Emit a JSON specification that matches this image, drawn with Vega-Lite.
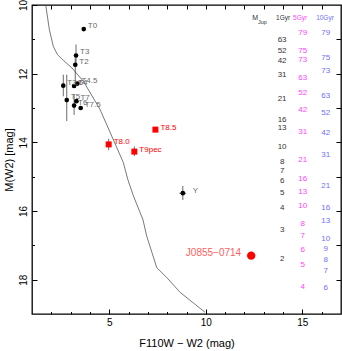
{
  "$schema": "https://vega.github.io/schema/vega-lite/v6.json",
  "width": 309,
  "height": 309,
  "autosize": "none",
  "padding": {"left": 32, "top": 5, "right": 1, "bottom": 37},
  "config": {
    "font": "Liberation Sans",
    "view": {"stroke": "black", "strokeWidth": 1.3},
    "axis": {"grid": false, "domain": false, "tickColor": "black", "tickWidth": 1, "labelColor": "black", "titleColor": "black", "labelFont": "Liberation Sans", "titleFont": "Liberation Sans", "labelFontSize": 10, "titleFontSize": 11, "titleFontWeight": "normal"}
  },
  "datasets": {
    "curve": [
      {"x": 1.71, "y": 10.0}, {"x": 1.90, "y": 10.72}, {"x": 2.10, "y": 11.20}, {"x": 2.31, "y": 11.44},
      {"x": 2.62, "y": 11.61}, {"x": 3.06, "y": 11.83}, {"x": 3.66, "y": 12.22}, {"x": 4.52, "y": 13.04},
      {"x": 5.13, "y": 13.82}, {"x": 5.73, "y": 14.59}, {"x": 5.96, "y": 15.08}, {"x": 6.25, "y": 15.56},
      {"x": 6.60, "y": 16.05}, {"x": 6.74, "y": 16.24}, {"x": 6.94, "y": 16.73}, {"x": 7.46, "y": 17.65},
      {"x": 7.98, "y": 17.94}, {"x": 8.67, "y": 18.37}, {"x": 9.96, "y": 18.95}
    ],
    "objs": [
      {"name": "T0", "group": "T", "x": 3.68, "y": 10.70},
      {"name": "T3", "group": "T", "x": 3.28, "y": 11.47, "ylo": 11.15, "yhi": 11.80},
      {"name": "T2", "group": "T", "x": 3.24, "y": 11.74, "ylo": 11.55, "yhi": 12.30},
      {"name": "T3.5", "group": "T", "x": 2.62, "y": 12.35, "ylo": 12.03, "yhi": 12.66},
      {"name": "T4", "group": "T", "x": 3.18, "y": 12.36},
      {"name": "T4.5", "group": "T", "x": 3.35, "y": 12.29},
      {"name": "T5", "group": "T", "x": 2.80, "y": 12.77, "ylo": 12.03, "yhi": 13.38},
      {"name": "T6", "group": "T", "x": 3.18, "y": 12.93, "ylo": 12.60, "yhi": 13.20},
      {"name": "T7", "group": "T", "x": 3.30, "y": 12.80},
      {"name": "T7.5", "group": "T", "x": 3.52, "y": 13.00},
      {"name": "T8.0", "group": "R", "x": 4.97, "y": 14.06, "ylo": 13.90, "yhi": 14.22},
      {"name": "T8.5", "group": "R", "x": 7.39, "y": 13.63, "ylo": 13.55, "yhi": 13.70},
      {"name": "T9pec", "group": "R", "x": 6.30, "y": 14.27, "ylo": 14.12, "yhi": 14.40},
      {"name": "Y", "group": "Y", "x": 8.81, "y": 15.48, "ylo": 15.27, "yhi": 15.68, "xlo": 8.63, "xhi": 8.98},
      {"name": "J0855−0714", "group": "J", "x": 12.35, "y": 17.30}
    ],
    "mass": [
      {"age": "1Gyr", "m": "63", "y": 11.03}, {"age": "1Gyr", "m": "52", "y": 11.35}, {"age": "1Gyr", "m": "42", "y": 11.64},
      {"age": "1Gyr", "m": "31", "y": 12.05}, {"age": "1Gyr", "m": "21", "y": 12.73}, {"age": "1Gyr", "m": "16", "y": 13.35},
      {"age": "1Gyr", "m": "13", "y": 13.58}, {"age": "1Gyr", "m": "10", "y": 14.14}, {"age": "1Gyr", "m": "8", "y": 14.56},
      {"age": "1Gyr", "m": "7", "y": 14.84}, {"age": "1Gyr", "m": "6", "y": 15.13}, {"age": "1Gyr", "m": "5", "y": 15.49},
      {"age": "1Gyr", "m": "4", "y": 15.92}, {"age": "1Gyr", "m": "3", "y": 16.54}, {"age": "1Gyr", "m": "2", "y": 17.40},
      {"age": "5Gyr", "m": "79", "y": 10.81}, {"age": "5Gyr", "m": "75", "y": 11.33}, {"age": "5Gyr", "m": "73", "y": 11.59},
      {"age": "5Gyr", "m": "63", "y": 12.14}, {"age": "5Gyr", "m": "52", "y": 12.56}, {"age": "5Gyr", "m": "42", "y": 13.07},
      {"age": "5Gyr", "m": "31", "y": 13.69}, {"age": "5Gyr", "m": "21", "y": 14.52}, {"age": "5Gyr", "m": "16", "y": 15.08},
      {"age": "5Gyr", "m": "13", "y": 15.45}, {"age": "5Gyr", "m": "10", "y": 15.85}, {"age": "5Gyr", "m": "8", "y": 16.37},
      {"age": "5Gyr", "m": "7", "y": 16.73}, {"age": "5Gyr", "m": "6", "y": 17.13}, {"age": "5Gyr", "m": "5", "y": 17.58},
      {"age": "5Gyr", "m": "4", "y": 18.21},
      {"age": "10Gyr", "m": "79", "y": 10.81}, {"age": "10Gyr", "m": "75", "y": 11.55}, {"age": "10Gyr", "m": "73", "y": 11.93},
      {"age": "10Gyr", "m": "63", "y": 12.64}, {"age": "10Gyr", "m": "52", "y": 13.14}, {"age": "10Gyr", "m": "42", "y": 13.72},
      {"age": "10Gyr", "m": "31", "y": 14.37}, {"age": "10Gyr", "m": "21", "y": 15.27}, {"age": "10Gyr", "m": "16", "y": 15.90},
      {"age": "10Gyr", "m": "13", "y": 16.29}, {"age": "10Gyr", "m": "10", "y": 16.82}, {"age": "10Gyr", "m": "9", "y": 17.11},
      {"age": "10Gyr", "m": "8", "y": 17.42}, {"age": "10Gyr", "m": "7", "y": 17.76}, {"age": "10Gyr", "m": "6", "y": 18.25}
    ],
    "one": [{"k": 1}]
  },
  "layer": [
    {
      "data": {"name": "curve"},
      "mark": {"type": "line", "color": "#555555", "strokeWidth": 0.8},
      "encoding": {
        "x": {"field": "x", "type": "quantitative", "scale": {"domain": [1, 17], "nice": false, "zero": false},
          "axis": {"orient": "bottom", "values": [5, 10, 15], "tickSize": -5, "labelPadding": 8, "title": "F110W − W2 (mag)", "titlePadding": 10}},
        "y": {"field": "y", "type": "quantitative", "scale": {"domain": [10, 19], "nice": false, "zero": false, "reverse": true},
          "axis": {"orient": "left", "values": [10, 12, 14, 16, 18], "tickSize": -5, "labelAngle": -90, "labelPadding": 9, "title": "M(W2) [mag]", "titlePadding": 4}}
      }
    },
    {
      "data": {"name": "curve"},
      "mark": {"type": "line", "opacity": 0},
      "encoding": {
        "x": {"field": "x", "type": "quantitative", "axis": {"orient": "bottom", "values": [2, 3, 4, 6, 7, 8, 9, 11, 12, 13, 14, 16], "tickSize": -2.5, "labels": false, "title": null}},
        "y": {"field": "y", "type": "quantitative", "axis": {"orient": "left", "values": [11, 13, 15, 17], "tickSize": -2.5, "labels": false, "title": null}}
      }
    },
    {
      "data": {"name": "curve"},
      "mark": {"type": "line", "opacity": 0},
      "encoding": {
        "x": {"field": "x", "type": "quantitative", "axis": {"orient": "top", "values": [2, 3, 4, 5, 6, 7, 8, 9, 10, 11, 12, 13, 14, 15, 16], "tickSize": -4, "labels": false, "title": null}},
        "y": {"field": "y", "type": "quantitative", "axis": {"orient": "right", "values": [11, 12, 13, 14, 15, 16, 17, 18], "tickSize": -5, "labels": false, "title": null}}
      }
    },
    {
      "data": {"name": "objs"},
      "transform": [{"filter": "isValid(datum.ylo)"}],
      "mark": {"type": "rule", "color": "#444444", "strokeWidth": 0.8},
      "encoding": {
        "x": {"field": "x", "type": "quantitative", "axis": null},
        "y": {"field": "ylo", "type": "quantitative", "axis": null}, "y2": {"field": "yhi"}}
    },
    {
      "data": {"name": "objs"},
      "transform": [{"filter": "isValid(datum.xlo)"}],
      "mark": {"type": "rule", "color": "#444444", "strokeWidth": 0.8},
      "encoding": {
        "x": {"field": "xlo", "type": "quantitative", "axis": null}, "x2": {"field": "xhi"},
        "y": {"field": "y", "type": "quantitative", "axis": null}}
    },
    {
      "data": {"name": "objs"},
      "transform": [{"filter": "datum.group == 'T' || datum.group == 'Y'"}],
      "mark": {"type": "circle", "color": "black", "opacity": 1, "size": 22},
      "encoding": {"x": {"field": "x", "type": "quantitative", "axis": null}, "y": {"field": "y", "type": "quantitative", "axis": null}}
    },
    {
      "data": {"name": "objs"},
      "transform": [{"filter": "datum.group == 'R'"}],
      "mark": {"type": "square", "color": "#ff0000", "opacity": 1, "size": 36},
      "encoding": {"x": {"field": "x", "type": "quantitative", "axis": null}, "y": {"field": "y", "type": "quantitative", "axis": null}}
    },
    {
      "data": {"name": "objs"},
      "transform": [{"filter": "datum.group == 'J'"}],
      "mark": {"type": "circle", "color": "#ff0000", "opacity": 1, "size": 70},
      "encoding": {"x": {"field": "x", "type": "quantitative", "axis": null}, "y": {"field": "y", "type": "quantitative", "axis": null}}
    },
    {
      "data": {"name": "objs"},
      "transform": [{"filter": "datum.group == 'T'"}],
      "mark": {"type": "text", "color": "#6a6a6a", "fontSize": 8, "align": "left", "baseline": "middle", "dx": 4, "dy": -3},
      "encoding": {"x": {"field": "x", "type": "quantitative", "axis": null}, "y": {"field": "y", "type": "quantitative", "axis": null}, "text": {"field": "name"}}
    },
    {
      "data": {"name": "objs"},
      "transform": [{"filter": "datum.group == 'Y'"}],
      "mark": {"type": "text", "color": "#6a6a6a", "fontSize": 8, "align": "left", "baseline": "middle", "dx": 10, "dy": -2},
      "encoding": {"x": {"field": "x", "type": "quantitative", "axis": null}, "y": {"field": "y", "type": "quantitative", "axis": null}, "text": {"field": "name"}}
    },
    {
      "data": {"name": "objs"},
      "transform": [{"filter": "datum.group == 'R'"}],
      "mark": {"type": "text", "color": "#ff0000", "fontSize": 8, "align": "left", "baseline": "middle", "dx": 5, "dy": -2},
      "encoding": {"x": {"field": "x", "type": "quantitative", "axis": null}, "y": {"field": "y", "type": "quantitative", "axis": null}, "text": {"field": "name"}}
    },
    {
      "data": {"name": "objs"},
      "transform": [{"filter": "datum.group == 'J'"}],
      "mark": {"type": "text", "color": "#ff6060", "fontSize": 10, "align": "right", "baseline": "middle", "dx": -10, "dy": -3},
      "encoding": {"x": {"field": "x", "type": "quantitative", "axis": null}, "y": {"field": "y", "type": "quantitative", "axis": null}, "text": {"field": "name"}}
    },
    {
      "data": {"name": "mass"},
      "transform": [{"filter": "datum.age == '1Gyr'"}],
      "mark": {"type": "text", "color": "#333333", "fontSize": 8, "align": "center", "baseline": "middle"},
      "encoding": {"x": {"datum": 13.95, "type": "quantitative", "axis": null}, "y": {"field": "y", "type": "quantitative", "axis": null}, "text": {"field": "m"}}
    },
    {
      "data": {"name": "mass"},
      "transform": [{"filter": "datum.age == '5Gyr'"}],
      "mark": {"type": "text", "color": "#ff44ff", "fontSize": 8, "align": "center", "baseline": "middle"},
      "encoding": {"x": {"datum": 15.02, "type": "quantitative", "axis": null}, "y": {"field": "y", "type": "quantitative", "axis": null}, "text": {"field": "m"}}
    },
    {
      "data": {"name": "mass"},
      "transform": [{"filter": "datum.age == '10Gyr'"}],
      "mark": {"type": "text", "color": "#6f6fff", "fontSize": 8, "align": "center", "baseline": "middle"},
      "encoding": {"x": {"datum": 16.21, "type": "quantitative", "axis": null}, "y": {"field": "y", "type": "quantitative", "axis": null}, "text": {"field": "m"}}
    },
    {
      "data": {"name": "one"},
      "mark": {"type": "text", "text": "M", "color": "#333333", "fontSize": 7, "align": "center", "baseline": "middle"},
      "encoding": {"x": {"datum": 12.55, "type": "quantitative", "axis": null}, "y": {"datum": 10.38, "type": "quantitative", "axis": null}}
    },
    {
      "data": {"name": "one"},
      "mark": {"type": "text", "text": "Jup", "color": "#333333", "fontSize": 5.5, "align": "left", "baseline": "middle"},
      "encoding": {"x": {"datum": 12.7, "type": "quantitative", "axis": null}, "y": {"datum": 10.5, "type": "quantitative", "axis": null}}
    },
    {
      "data": {"name": "one"},
      "mark": {"type": "text", "text": "1Gyr", "color": "#333333", "fontSize": 6.5, "align": "center", "baseline": "middle"},
      "encoding": {"x": {"datum": 14.0, "type": "quantitative", "axis": null}, "y": {"datum": 10.38, "type": "quantitative", "axis": null}}
    },
    {
      "data": {"name": "one"},
      "mark": {"type": "text", "text": "5Gyr", "color": "#ff44ff", "fontSize": 6.5, "align": "center", "baseline": "middle"},
      "encoding": {"x": {"datum": 14.88, "type": "quantitative", "axis": null}, "y": {"datum": 10.38, "type": "quantitative", "axis": null}}
    },
    {
      "data": {"name": "one"},
      "mark": {"type": "text", "text": "10Gyr", "color": "#6f6fff", "fontSize": 6.5, "align": "center", "baseline": "middle"},
      "encoding": {"x": {"datum": 16.17, "type": "quantitative", "axis": null}, "y": {"datum": 10.38, "type": "quantitative", "axis": null}}
    }
  ],
  "resolve": {"axis": {"x": "independent", "y": "independent"}}
}
